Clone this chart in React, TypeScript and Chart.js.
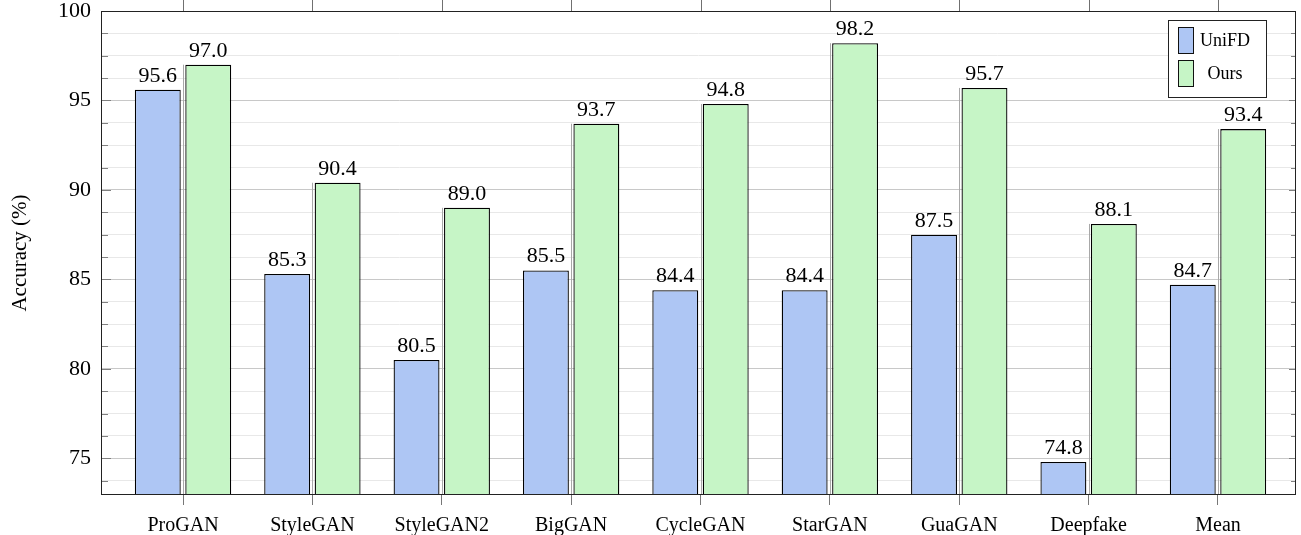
import React, { useEffect, useRef } from "react";
import { Chart, registerables } from "chart.js";

Chart.register(...registerables);

const categories = ["ProGAN", "StyleGAN", "StyleGAN2", "BigGAN", "CycleGAN", "StarGAN", "GuaGAN", "Deepfake", "Mean"];
const unifdValues = [95.6, 85.3, 80.5, 85.5, 84.4, 84.4, 87.5, 74.8, 84.7];
const oursValues = [97.0, 90.4, 89.0, 93.7, 94.8, 98.2, 95.7, 88.1, 93.4];
const seriesNames = ["UniFD", "Ours"];
const seriesColors = ["#aec6f4", "#c6f5c6"];
const yTickValues = [73.75, 75, 76.25, 77.5, 78.75, 80, 81.25, 82.5, 83.75, 85, 86.25, 87.5, 88.75, 90, 91.25, 92.5, 93.75, 95, 96.25, 97.5, 98.75, 100];
const yMajorTicks = [75, 80, 85, 90, 95, 100];
const yAxisTitle = "Accuracy (%)";

const FONT_FAMILY = "'Liberation Serif', 'Times New Roman', serif";

const decorPlugin = {
  id: "decor",
  beforeDatasetsDraw(chart: any) {
    const { ctx, chartArea: a, scales } = chart;
    const x = scales.x;
    const y = scales.y;
    ctx.save();
    ctx.lineWidth = 1;
    ctx.strokeStyle = "#a8a8a8";
    categories.forEach((_, i) => {
      const px = Math.round(x.getPixelForValue(i)) + 0.5;
      ctx.beginPath();
      ctx.moveTo(px, a.bottom);
      ctx.lineTo(px, y.getPixelForValue(Math.max(unifdValues[i], oursValues[i])));
      ctx.stroke();
    });
    ctx.restore();
  },
  afterDatasetsDraw(chart: any) {
    const { ctx, chartArea: a, scales } = chart;
    const x = scales.x;
    const y = scales.y;
    ctx.save();
    ctx.lineWidth = 1;
    // top outward ticks
    ctx.strokeStyle = "#707070";
    categories.forEach((_, i) => {
      const px = Math.round(x.getPixelForValue(i)) + 0.5;
      ctx.beginPath();
      ctx.moveTo(px, 0);
      ctx.lineTo(px, a.top);
      ctx.stroke();
    });
    // y tick marks inside, both sides
    ctx.strokeStyle = "#808080";
    yTickValues.forEach((v) => {
      const major = yMajorTicks.includes(v);
      const py = Math.round(y.getPixelForValue(v)) + 0.5;
      const lenL = major ? 10 : 7;
      const lenR = major ? 7 : 5;
      ctx.beginPath();
      ctx.moveTo(a.left, py);
      ctx.lineTo(a.left + lenL, py);
      ctx.moveTo(a.right, py);
      ctx.lineTo(a.right - lenR, py);
      ctx.stroke();
    });
    // frame
    ctx.strokeStyle = "#222";
    ctx.strokeRect(Math.round(a.left) + 0.5, Math.round(a.top) + 0.5, Math.round(a.right - a.left) - 1, Math.round(a.bottom - a.top) - 1);

    // value labels
    ctx.fillStyle = "#000";
    ctx.font = `22px ${FONT_FAMILY}`;
    ctx.textAlign = "center";
    ctx.textBaseline = "alphabetic";
    chart.data.datasets.forEach((ds: any, di: number) => {
      const meta = chart.getDatasetMeta(di);
      meta.data.forEach((el: any, i: number) => {
        const v = ds.data[i].y;
        ctx.fillText(v.toFixed(1), el.x, el.y - 8);
      });
    });

    // legend
    const lx = Math.round(a.right - 128);
    const ly = Math.round(a.top + 9);
    const lw = 98;
    const lh = 77;
    ctx.fillStyle = "#fff";
    ctx.fillRect(lx, ly, lw, lh);
    ctx.strokeStyle = "#222";
    ctx.strokeRect(lx + 0.5, ly + 0.5, lw, lh);
    ctx.font = `18px ${FONT_FAMILY}`;
    seriesNames.forEach((name, i) => {
      const sy = ly + 7 + i * 33;
      ctx.fillStyle = seriesColors[i];
      ctx.fillRect(lx + 10, sy, 15, 26);
      ctx.strokeStyle = "#111";
      ctx.strokeRect(lx + 10.5, sy + 0.5, 15, 26);
      ctx.fillStyle = "#000";
      ctx.textAlign = "center";
      ctx.textBaseline = "middle";
      ctx.fillText(name, lx + 57, sy + 14);
    });
    ctx.restore();
  },
};

export default function App() {
  const ref = useRef<HTMLCanvasElement | null>(null);
  useEffect(() => {
    if (!ref.current) return;
    const chart = new Chart(ref.current, {
      type: "bar",
      data: {
        datasets: [
          {
            label: seriesNames[0],
            data: unifdValues.map((v, i) => ({ x: i, y: v })),
            backgroundColor: seriesColors[0],
            borderColor: "#000",
            borderWidth: 1.3,
          },
          {
            label: seriesNames[1],
            data: oursValues.map((v, i) => ({ x: i, y: v })),
            backgroundColor: seriesColors[1],
            borderColor: "#000",
            borderWidth: 1.3,
          },
        ],
      },
      options: {
        responsive: false,
        animation: false,
        devicePixelRatio: 1,
        categoryPercentage: 0.78,
        barPercentage: 0.91,
        layout: { padding: { top: 11, right: 5, left: 0, bottom: 0 } },
        plugins: { legend: { display: false }, tooltip: { enabled: false } },
        scales: {
          x: {
            type: "linear",
            min: -0.634,
            max: 8.603,
            offset: false,
            afterFit: (s: any) => {
              s.height = 40;
              s.paddingLeft = 0;
              s.paddingRight = 0;
            },
            afterBuildTicks: (s: any) => {
              s.ticks = categories.map((_, i) => ({ value: i }));
            },
            ticks: {
              callback: (v: any) => categories[v] ?? "",
              font: { family: FONT_FAMILY, size: 20 },
              color: "#000",
              padding: 9,
              maxRotation: 0,
              autoSkip: false,
            },
            grid: { drawOnChartArea: false, drawTicks: true, tickLength: 10, color: "#777", offset: false },
            border: { display: false },
          },
          y: {
            min: 72.95,
            max: 100,
            afterFit: (s: any) => {
              s.width = 101;
              s.paddingTop = 0;
              s.paddingBottom = 0;
            },
            afterBuildTicks: (s: any) => {
              s.ticks = yTickValues.map((v) => ({ value: v }));
            },
            ticks: {
              callback: (v: any) => (yMajorTicks.includes(v) ? String(v) : ""),
              font: { family: FONT_FAMILY, size: 22 },
              color: "#000",
              padding: 10,
              autoSkip: false,
            },
            grid: {
              drawTicks: false,
              color: (c: any) => (yMajorTicks.includes(c.tick?.value) ? "#c8c8c8" : "#e8e8e8"),
              lineWidth: 1,
            },
            border: { display: false },
            title: {
              display: true,
              text: yAxisTitle,
              font: { family: FONT_FAMILY, size: 21 },
              color: "#000",
              padding: { top: 8, bottom: 0 },
            },
          },
        },
      },
      plugins: [decorPlugin],
    } as any);
    return () => chart.destroy();
  }, []);
  return (
    <div style={{ position: "fixed", left: 0, top: 0, width: 1301, height: 535, background: "#fff" }}>
      <canvas ref={ref} width={1301} height={535} style={{ display: "block" }} />
    </div>
  );
}
